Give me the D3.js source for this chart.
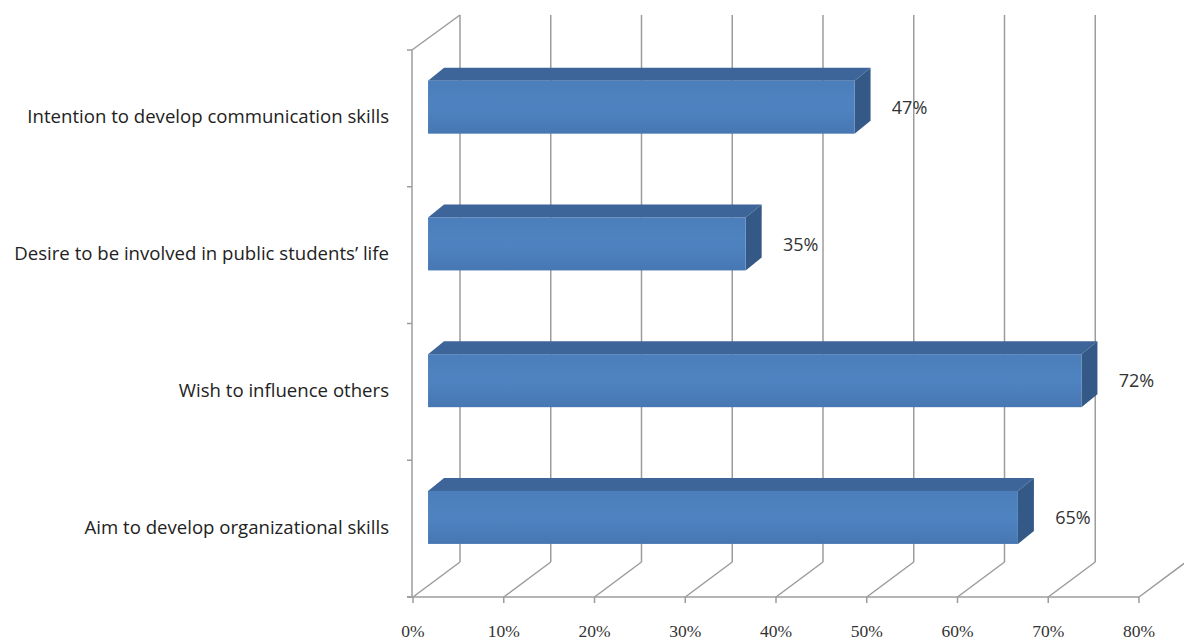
<!DOCTYPE html>
<html>
<head>
<meta charset="utf-8">
<script src="https://cdn.jsdelivr.net/npm/d3@7"></script>
<style>
  html, body { margin: 0; padding: 0; background: #fff; }
  svg { display: block; }
</style>
</head>
<body>
<svg id="chart" width="1184" height="644"></svg>
<script>
// Categories listed bottom to top, as on the vertical axis
const categories = [
  "Aim to develop organizational skills",
  "Wish to influence others",
  "Desire to be involved in public students’ life",
  "Intention to develop communication skills"
];
const values = [65, 72, 35, 47];
const tickValues = [0, 10, 20, 30, 40, 50, 60, 70, 80];
const tickLabels = ["0%", "10%", "20%", "30%", "40%", "50%", "60%", "70%", "80%"];

const svg = d3.select("#chart");

// Front plane of the 3D box
const x = d3.scaleLinear().domain([0, 80]).range([413, 1139]);
const y = d3.scaleBand().domain(categories.slice().reverse()).range([50, 597]);

// Oblique projection of the box depth
const depth = { dx: 47, dy: -35 };
const barOffset = 0.32;                 // where bar front faces sit along depth
const barDepth = { dx: 16, dy: -13 };   // thickness of each bar
const barH = 53;

const gridColor = "#9c9c9c";
const grid = svg.append("g").attr("stroke", gridColor).attr("stroke-width", 1.5).attr("fill", "none");

// Back wall verticals and floor diagonals
tickValues.forEach(v => {
  const x0 = x(v), yF = y.range()[1];
  grid.append("line")
    .attr("x1", x0).attr("y1", yF)
    .attr("x2", x0 + depth.dx).attr("y2", yF + depth.dy);
  grid.append("line")
    .attr("x1", x0 + depth.dx).attr("y1", yF + depth.dy)
    .attr("x2", x0 + depth.dx).attr("y2", y.range()[0] + depth.dy);
});

// Left wall
const yT = y.range()[0], yB = y.range()[1];
grid.append("line").attr("x1", x(0) - 1).attr("y1", yT).attr("x2", x(0) - 1).attr("y2", yB);
grid.append("line").attr("x1", x(0) - 1).attr("y1", yT).attr("x2", x(0) + depth.dx).attr("y2", yT + depth.dy);

// Category axis ticks
const catTicks = [yT].concat(categories.map(c => y(c) + y.bandwidth()));
catTicks.forEach(t => {
  grid.append("line").attr("x1", x(0) - 6).attr("y1", t).attr("x2", x(0) - 1).attr("y2", t);
});

// Value axis line and ticks
grid.append("line").attr("x1", x(0) - 6).attr("y1", yB).attr("x2", x(80)).attr("y2", yB);
tickValues.forEach(v => {
  grid.append("line").attr("x1", x(v)).attr("y1", yB).attr("x2", x(v)).attr("y2", yB + 6);
});

// Gradient for the front faces
const defs = svg.append("defs");
const grad = defs.append("linearGradient").attr("id", "front").attr("x1", 0).attr("y1", 0).attr("x2", 0).attr("y2", 1);
grad.append("stop").attr("offset", "0%").attr("stop-color", "#4b7ebb");
grad.append("stop").attr("offset", "50%").attr("stop-color", "#4e83c1");
grad.append("stop").attr("offset", "100%").attr("stop-color", "#4777b3");

// Bars
const bars = svg.append("g");
categories.forEach((c, i) => {
  const v = values[i];
  const ox = barOffset * depth.dx, oy = barOffset * depth.dy;
  const x0 = x(0) + ox, x1 = x(v) + ox;
  const cy = y(c) + y.bandwidth() / 2 + oy;
  const y0 = cy - barH / 2, y1 = cy + barH / 2;
  const g = bars.append("g");
  // top face
  g.append("polygon")
    .attr("points", [[x0, y0], [x0 + barDepth.dx, y0 + barDepth.dy], [x1 + barDepth.dx, y0 + barDepth.dy], [x1, y0]].map(p => p.join(",")).join(" "))
    .attr("fill", "#3d659a");
  // side face
  g.append("polygon")
    .attr("points", [[x1, y0], [x1 + barDepth.dx, y0 + barDepth.dy], [x1 + barDepth.dx, y1 + barDepth.dy], [x1, y1]].map(p => p.join(",")).join(" "))
    .attr("fill", "#355987");
  // front face
  g.append("rect")
    .attr("x", x0).attr("y", y0).attr("width", x1 - x0).attr("height", barH)
    .attr("fill", "url(#front)");
  // value label
  g.append("text")
    .attr("x", x1 + 55).attr("y", cy + 2)
    .attr("text-anchor", "middle")
    .attr("dominant-baseline", "middle")
    .attr("font-family", "'Open Sans', sans-serif")
    .attr("font-size", 18)
    .attr("fill", "#333")
    .text(v + "%");
});

// Category labels
svg.append("g").selectAll("text").data(categories).join("text")
  .attr("x", 389)
  .attr("y", d => y(d) + y.bandwidth() / 2)
  .attr("text-anchor", "end")
  .attr("dominant-baseline", "middle")
  .attr("font-family", "'Open Sans', sans-serif")
  .attr("font-size", 18.6)
  .attr("fill", "#222")
  .text(d => d);

// Value axis labels
svg.append("g").selectAll("text").data(tickValues).join("text")
  .attr("x", d => x(d))
  .attr("y", 633)
  .attr("text-anchor", "middle")
  .attr("dominant-baseline", "middle")
  .attr("font-family", "'Liberation Serif', serif")
  .attr("font-size", 17.5)
  .attr("fill", "#333")
  .text((d, i) => tickLabels[i]);
</script>
</body>
</html>
